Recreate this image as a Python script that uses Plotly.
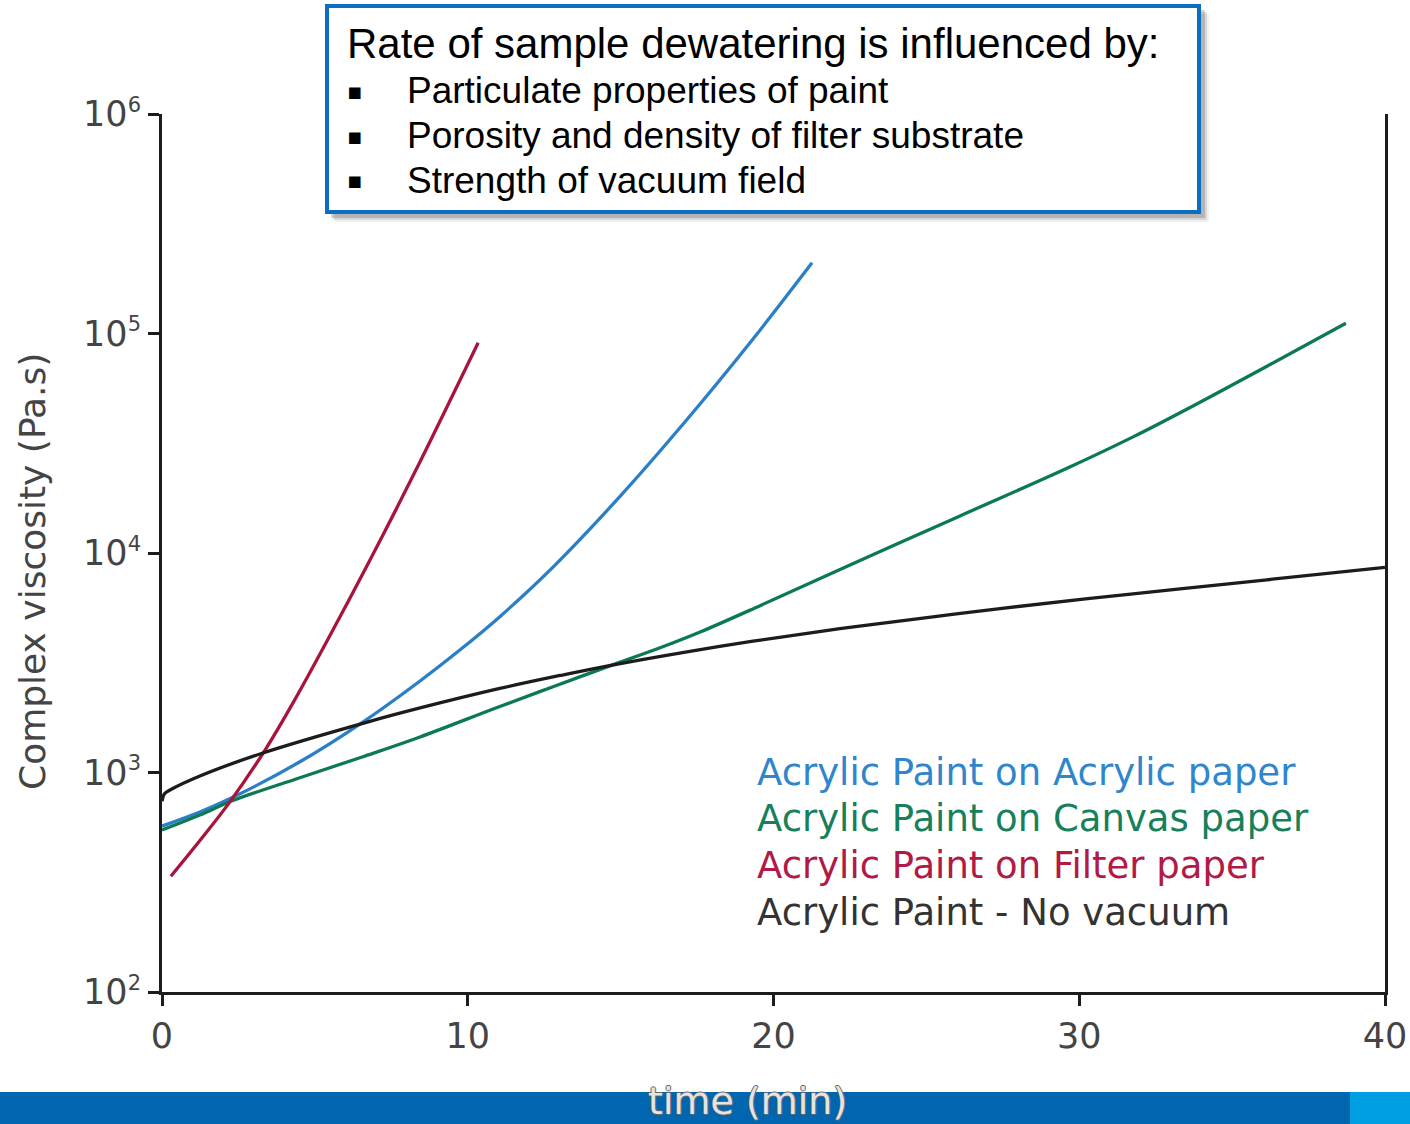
import plotly.graph_objects as go

# Complex viscosity (Pa.s) versus time (min) for acrylic paint dewatering runs
series_names = [
    "Acrylic Paint on Acrylic paper",
    "Acrylic Paint on Canvas paper",
    "Acrylic Paint on Filter paper",
    "Acrylic Paint - No vacuum",
]
series_colors = ["#2a7fc6", "#0b7a52", "#a8143c", "#1c1c1c"]
label_colors = ["#2f86cc", "#17805a", "#b01a45", "#333333"]

acrylic_time = [0.0, 1.24, 2.32, 4.51, 6.57, 8.44, 9.75, 11.05, 12.79, 14.98, 17.17, 19.33, 21.26]
acrylic_visc = [570, 661, 771, 1119, 1698, 2612, 3622, 5129, 8630, 18110, 40550, 94400, 209900]

canvas_time = [0.0, 1.24, 2.32, 4.51, 6.57, 8.44, 10.96, 12.79, 14.49, 16.29, 17.60, 19.56,
               22.83, 26.10, 29.60, 31.76, 33.95, 36.14, 38.72]
canvas_visc = [547, 640, 745, 946, 1180, 1452, 1977, 2460, 3006, 3698, 4365, 5754,
               9247, 14760, 24320, 33810, 48640, 70960, 111400]

filter_time = [0.29, 1.24, 2.22, 3.37, 4.28, 6.08, 7.26, 8.44, 10.34]
filter_visc = [337, 490, 735, 1265, 2070, 5984, 12330, 26060, 90780]

novac_time = [0.0, 0.08, 0.26, 1.24, 3.30, 6.80, 8.44, 11.05, 13.02, 14.55, 17.17, 19.33,
              22.17, 25.02, 27.41, 31.76, 36.14, 40.0]
novac_visc = [740, 800, 832, 964, 1227, 1710, 1968, 2415, 2767, 3055, 3548, 3963,
              4519, 5082, 5585, 6516, 7551, 8610]

x_ticks = [0, 10, 20, 30, 40]
y_ticks = [1e2, 1e3, 1e4, 1e5, 1e6]
y_exponents = ["2", "3", "4", "5", "6"]
y_ticktext = [f"10<sup><span style='font-size:21px'>{e}</span></sup>" for e in y_exponents]

box_title = "Rate of sample dewatering is influenced by:"
box_bullets = [
    "Particulate properties of paint",
    "Porosity and density of filter substrate",
    "Strength of vacuum field",
]
x_title = "time (min)"
y_title = "Complex viscosity (Pa.s)"

W, H = 1410, 1124
ML, MR, MT, MB = 162, 25, 114, 132
PW, PH = W - ML - MR, H - MT - MB


def px(xp):
    return (xp - ML) / PW


def py(yp):
    return (H - MB - yp) / PH


chart_font = "DejaVu Sans"
axis_color = "#1c1c1c"

fig = go.Figure()
all_series = [
    (acrylic_time, acrylic_visc),
    (canvas_time, canvas_visc),
    (filter_time, filter_visc),
    (novac_time, novac_visc),
]
for (t, v), name, color in zip(all_series, series_names, series_colors):
    fig.add_trace(go.Scatter(
        x=t, y=v, mode="lines", name=name, showlegend=False,
        line=dict(color=color, width=3.3, shape="spline", smoothing=1.0),
        hoverinfo="skip",
    ))

fig.update_xaxes(
    range=[0, 40], tickvals=x_ticks, ticks="outside", ticklen=11, tickwidth=3,
    tickcolor=axis_color, showline=True, linewidth=3, linecolor=axis_color,
    showgrid=False, zeroline=False, automargin=False,
    tickfont=dict(family=chart_font, size=35, color="#444444"),
)
fig.update_yaxes(
    type="log", range=[2, 6], tickvals=y_ticks, ticktext=y_ticktext,
    ticks="outside", ticklen=11, tickwidth=3, tickcolor=axis_color,
    showline=True, mirror=True, linewidth=3, linecolor=axis_color,
    showgrid=False, zeroline=False, ticklabelstandoff=0, automargin=False,
    tickfont=dict(family=chart_font, size=35, color="#444444"),
)

shapes = []
# footer band
shapes.append(dict(type="rect", xref="paper", yref="paper",
                   x0=px(-5), x1=px(1350), y0=py(H + 5), y1=py(1092),
                   fillcolor="#0066b0", line=dict(width=0), layer="above"))
shapes.append(dict(type="rect", xref="paper", yref="paper",
                   x0=px(1350), x1=px(W + 5), y0=py(H + 5), y1=py(1092),
                   fillcolor="#009fe3", line=dict(width=0), layer="above"))
# callout box with soft drop shadow
for off, alpha in [(9, 0.06), (7, 0.10), (5, 0.16)]:
    shapes.append(dict(type="rect", xref="paper", yref="paper",
                       x0=px(326 + off), x1=px(1200 + off), y0=py(213 + off), y1=py(5 + off),
                       fillcolor=f"rgba(0,0,0,{alpha})", line=dict(width=0), layer="above"))
shapes.append(dict(type="rect", xref="paper", yref="paper",
                   x0=px(327), x1=px(1199), y0=py(212), y1=py(6),
                   fillcolor="white", line=dict(color="#0a6fc2", width=4), layer="above"))

annotations = []
box_font = "Liberation Sans, Arial, sans-serif"
annotations.append(dict(xref="paper", yref="paper", x=px(345), y=py(43),
                        xanchor="left", yanchor="middle", showarrow=False,
                        text=box_title, font=dict(family=box_font, size=42, color="black")))
for i, line in enumerate(box_bullets):
    yc = 91 + i * 44.5
    annotations.append(dict(xref="paper", yref="paper", x=px(345), y=py(yc),
                            xanchor="left", yanchor="middle", showarrow=False,
                            text="▪", font=dict(family="DejaVu Sans", size=23, color="black")))
    annotations.append(dict(xref="paper", yref="paper", x=px(405), y=py(yc),
                            xanchor="left", yanchor="middle", showarrow=False,
                            text=line, font=dict(family=box_font, size=37, color="black")))

# series labels
for i, (name, color) in enumerate(zip(series_names, label_colors)):
    yc = 772 + i * 46.7
    annotations.append(dict(xref="paper", yref="paper", x=px(755), y=py(yc),
                            xanchor="left", yanchor="middle", showarrow=False,
                            text=name, font=dict(family=chart_font, size=37, color=color)))

# axis titles
annotations.append(dict(xref="paper", yref="paper", x=px(747), y=py(1101),
                        xanchor="center", yanchor="middle", showarrow=False,
                        text=x_title,
                        font=dict(family=chart_font, size=38, color="#e4e4e4",
                                  shadow="-1px 0 #666, 1px 0 #666, 0 -1px #666, 0 1px #666")))
annotations.append(dict(xref="paper", yref="paper", x=px(32), y=py(572),
                        xanchor="center", yanchor="middle", showarrow=False, textangle=-90,
                        text=y_title, font=dict(family=chart_font, size=36, color="#444444")))

fig.update_layout(
    width=W, height=H, autosize=False,
    margin=dict(l=ML, r=MR, t=MT, b=MB, pad=0),
    paper_bgcolor="white", plot_bgcolor="white",
    shapes=shapes, annotations=annotations,
    showlegend=False,
)

fig.write_html("out.html")
